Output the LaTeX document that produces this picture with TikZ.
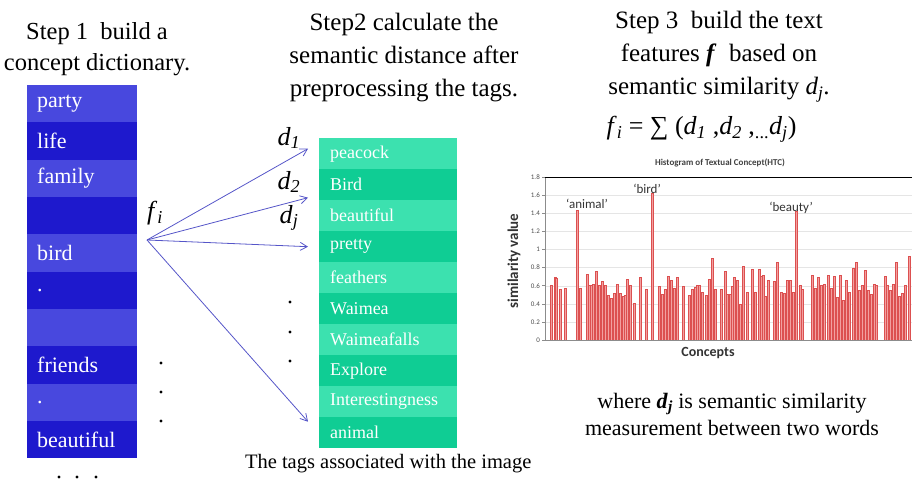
\documentclass[tikz,border=0pt]{standalone}
\usepackage{fontspec}
\setmainfont{Liberation Serif}
\newfontfamily\chartfont{Carlito}
\usepackage{xcolor}
\usetikzlibrary{arrows.meta, positioning, calc}

\definecolor{dictlight}{RGB}{72,72,222}
\definecolor{dictdark}{RGB}{30,25,205}
\definecolor{taglight}{RGB}{60,225,175}
\definecolor{tagdark}{RGB}{15,205,148}
\definecolor{linkblue}{RGB}{85,85,200}
\definecolor{barfill}{RGB}{242,160,160}
\definecolor{baredge}{RGB}{220,80,80}

\newcommand{\itsub}[2]{\textit{#1}\textsubscript{\textit{#2}}}

\begin{document}
\begin{tikzpicture}[
    x=1pt, y=-1pt,
    title/.style={align=center, font=\fontsize{25}{33}\selectfont},
    dictrow/.style={anchor=north west, minimum height=37.3pt, inner xsep=10pt,
      text width=90pt, align=left, text=white, font=\fontsize{22}{24}\selectfont},
    tagrow/.style={anchor=north west, minimum height=31pt, inner xsep=11pt,
      text width=116pt, align=left, text=white, font=\fontsize{18}{20}\selectfont},
    dlabel/.style={font=\fontsize{26}{26}\selectfont},
    linkarrow/.style={->, >={Straight Barb[length=7pt,width=8pt]}, draw=linkblue, line width=0.8pt},
    bar/.style={fill=barfill, draw=baredge, line width=0.5pt},
    ticklabel/.style={anchor=east, inner sep=1pt, font=\chartfont\fontsize{7}{7}\selectfont, text=black!70},
    peak/.style={font=\chartfont\fontsize{13}{13}\selectfont, text=black!80},
    gridline/.style={draw=black!10, line width=0.4pt}
]
\useasboundingbox (0,0) rectangle (914,487);

% titles
\node[title, font=\fontsize{24.5}{31}\selectfont, inner xsep=0pt] (step1) at (97,49) {Step 1\ \ build a\\concept dictionary.};
\node[title] (step2) at (404,58) {Step2 calculate the\\semantic distance after\\preprocessing the tags.};
\node[title] (step3) at (719,57) {Step 3\ \ build the text\\features \textbf{\textit{f}}\ \ based on\\semantic similarity \itsub{d}{j}.};
\node[anchor=base west, font=\fontsize{26}{26}\selectfont] (formula) at (603,135)
  {\itsub{f}{i} = ∑ (\itsub{d}{1} ,\itsub{d}{2} ,\textsubscript{...}\itsub{d}{j})};

% concept dictionary
\foreach \w/\c [count=\i] in {party/dictlight, life/dictdark, family/dictlight, {}/dictdark,
    bird/dictlight, ./dictdark, {}/dictlight, friends/dictdark, ./dictlight, beautiful/dictdark}
  \node[dictrow, fill=\c] (dict\i) at (27,{85+37.3*(\i-1)}) {\w};

% tags of the image
\foreach \w/\c [count=\i] in {peacock/taglight, Bird/tagdark, beautiful/taglight, pretty/tagdark,
    feathers/taglight, Waimea/tagdark, Waimeafalls/taglight, Explore/tagdark,
    Interestingness/taglight, animal/tagdark}
  \node[tagrow, fill=\c] (tag\i) at (319,{138+31*(\i-1)}) {\w};

\node[font=\fontsize{20.5}{21}\selectfont, below=2pt of tag10] (caption) {The tags associated with the image};

% semantic distances
\coordinate (fi) at (147,240);
\node[dlabel] (flabel) at (155,213) {\itsub{f}{i}};
\node[dlabel] (d1) at (289,138) {\itsub{d}{1}};
\node[dlabel] (d2) at (289,182) {\itsub{d}{2}};
\node[dlabel] (dj) at (289,218) {\itsub{d}{j}};

\draw[linkarrow] (fi) -- ([xshift=-11pt,yshift=5pt]tag1.west);
\draw[linkarrow] (fi) -- ([xshift=-11pt,yshift=-13pt]tag2.west);
\draw[linkarrow] (fi) -- ([xshift=-11pt]tag4.west);
\draw[linkarrow] (fi) -- ([xshift=-11pt,yshift=11pt]tag10.west);

% dots
\foreach \y in {302,332,361} \fill (290,\y) circle (1.6);
\foreach \y in {363,392,421} \fill (161,\y) circle (1.6);
\foreach \x in {59,77,96} \fill (\x,477) circle (1.6);

% histogram
\node[font=\chartfont\bfseries\fontsize{9}{9}\selectfont, text=black!75] (htitle) at (720,163) {Histogram of Textual Concept(HTC)};
\node[rotate=90, font=\chartfont\bfseries\fontsize{15}{15}\selectfont, text=black!80] (ylabel) at (514,261) {similarity value};
\node[font=\chartfont\bfseries\fontsize{14}{14}\selectfont, text=black!80] (xlabel) at (708,353) {Concepts};

\begin{scope}[shift={(545,340)}, yscale=-90.5]
  \foreach \t in {0.2,0.4,...,1.7} \draw[gridline] (0,\t) -- (367,\t);
  \foreach \x/\v in {6.7/0.61, 10/0.69, 11.7/0.68, 15/0.56, 20.3/0.57, 32.7/1.43, 35.7/0.57,
      42.7/0.73, 44.3/0.61, 46.7/0.61, 48.7/0.62, 51.7/0.76, 54.3/0.60, 57.3/0.65, 60.3/0.61,
      63.3/0.50, 66/0.46, 69.7/0.52, 72.7/0.62, 75.3/0.52, 78.3/0.48, 80/0.49, 82/0.67,
      85.7/0.61, 89.3/0.41, 95/0.69, 101.7/0.56, 107.7/1.62, 114.3/0.59, 117.7/0.51,
      120.7/0.56, 123.3/0.70, 126.7/0.66, 129.3/0.57, 132.7/0.69, 138.3/0.59, 144.3/0.49,
      147.3/0.56, 150/0.58, 152.3/0.61, 154.3/0.61, 157/0.53, 161/0.49, 164/0.67, 167/0.90,
      170.3/0.56, 176.7/0.56, 180/0.76, 182.7/0.51, 185/0.51, 187.3/0.59, 189.3/0.69,
      192.3/0.66, 195/0.39, 198.3/0.81, 202/0.53, 207.3/0.78, 210.3/0.53, 214/0.78,
      216.7/0.70, 218.3/0.71, 220.7/0.48, 223.7/0.66, 229.7/0.65, 232.7/0.86, 236.7/0.53,
      239.3/0.52, 242.3/0.66, 245/0.66, 248.3/0.53, 251.3/1.42, 255/0.61, 257.7/0.56,
      267.7/0.72, 270.3/0.57, 273.7/0.69, 276.7/0.60, 279.3/0.62, 283.3/0.72, 286/0.57,
      289.3/0.70, 292.3/0.47, 295/0.72, 298/0.44, 301.7/0.66, 304.7/0.53, 308.3/0.79,
      311/0.86, 314.3/0.55, 317.7/0.60, 320.3/0.77, 323.3/0.55, 326/0.51, 329/0.62,
      331.7/0.61, 340/0.70, 342.7/0.61, 345.7/0.55, 348.7/0.62, 351.3/0.86, 354.3/0.48,
      357.3/0.52, 360/0.61, 364.3/0.93}
    \filldraw[bar] ({\x-1},0) rectangle ({\x+1},\v);
  \draw[black!45, line width=0.6pt] (0,0) -- (367,0);
  \draw[black!45, line width=0.6pt] (0,0) -- (0,1.8);
  \draw[black, line width=1pt] (0,1.8) -- (367,1.8);
  \foreach \t/\lab [count=\k] in {0/0, 0.2/0.2, 0.4/0.4, 0.6/0.6, 0.8/0.8, 1/1,
      1.2/1.2, 1.4/1.4, 1.6/1.6, 1.8/1.8} {
    \draw[black!45, line width=0.6pt] (-3,\t) -- (0,\t);
    \node[ticklabel] (tick\k) at (-4,\t) {\lab};
  }
\end{scope}

\node[peak] (panimal) at (587,204) {‘animal’};
\node[peak] (pbird) at (647,189) {‘bird’};
\node[peak] (pbeauty) at (791,208) {‘beauty’};

% note
\node[align=center, font=\fontsize{22}{27}\selectfont] (note) at (732,414)
  {where \textbf{\textit{d}\textsubscript{\textit{j}}} is semantic similarity\\measurement between two words};
\end{tikzpicture}
\end{document}
